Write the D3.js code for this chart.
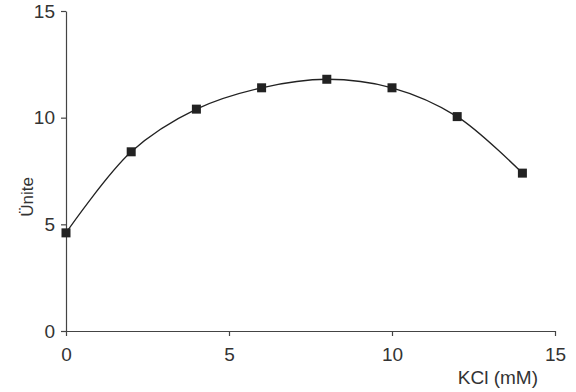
<!DOCTYPE html>
<html>
<head>
<meta charset="utf-8">
<script src="https://cdn.jsdelivr.net/npm/d3@7"></script>
<style>
  body { margin: 0; background: #fff; }
  svg text { font-family: "Liberation Sans", Arial, sans-serif; fill: #333; }
</style>
</head>
<body>
<div id="chart"></div>
<script>
// KCl concentration (mM) and measured units
const kcl = [0, 2, 4, 6, 8, 10, 12, 14];
const unite = [4.6, 8.4, 10.4, 11.4, 11.8, 11.4, 10.05, 7.4];
const xTicks = [0, 5, 10, 15];
const yTicks = [0, 5, 10, 15];

const w = 576;
const h = 392;
const margin = { top: 11, right: 21, bottom: 61, left: 66 };

const dataset = kcl.map((x, i) => ({ x, y: unite[i] }));

const xScale = d3.scaleLinear()
  .domain([0, 15])
  .range([margin.left, w - margin.right]);

const yScale = d3.scaleLinear()
  .domain([0, 15])
  .range([h - margin.bottom, margin.top]);

const svg = d3.select('#chart')
  .append('svg')
  .attr('width', w)
  .attr('height', h);

// x axis
const xAxis = d3.axisBottom(xScale)
  .tickValues(xTicks)
  .tickSize(5)
  .tickPadding(12)
  .tickSizeOuter(0);

svg.append('g')
  .attr('class', 'x-axis')
  .attr('transform', `translate(0, ${yScale(0)})`)
  .call(xAxis);

// y axis
const yAxis = d3.axisLeft(yScale)
  .tickValues(yTicks)
  .tickSize(5)
  .tickPadding(6)
  .tickSizeOuter(0);

svg.append('g')
  .attr('class', 'y-axis')
  .attr('transform', `translate(${xScale(0)}, 0)`)
  .call(yAxis);

svg.selectAll('.domain, .tick line')
  .attr('stroke', '#444')
  .attr('stroke-width', 1.2);

svg.selectAll('.tick text')
  .attr('font-size', 19)
  .style('font-family', '"Liberation Sans", Arial, sans-serif')
  .attr('fill', '#333');

// axis titles
svg.append('text')
  .attr('x', 538)
  .attr('y', 384)
  .attr('text-anchor', 'end')
  .attr('font-size', 19)
  .text('KCl (mM)');

svg.append('text')
  .attr('transform', `translate(33, 197) rotate(-90)`)
  .attr('text-anchor', 'middle')
  .attr('font-size', 17)
  .text('Ünite');

// curve
const line = d3.line()
  .curve(d3.curveCatmullRom.alpha(0.5))
  .x(d => xScale(d.x))
  .y(d => yScale(d.y));

svg.append('path')
  .datum(dataset)
  .attr('fill', 'none')
  .attr('stroke', '#222')
  .attr('stroke-width', 1.3)
  .attr('d', line);

// markers
const s = 9;
svg.selectAll('.pt')
  .data(dataset)
  .join('rect')
  .attr('class', 'pt')
  .attr('x', d => xScale(d.x) - s / 2)
  .attr('y', d => yScale(d.y) - s / 2)
  .attr('width', s)
  .attr('height', s)
  .attr('fill', '#222');
</script>
</body>
</html>
